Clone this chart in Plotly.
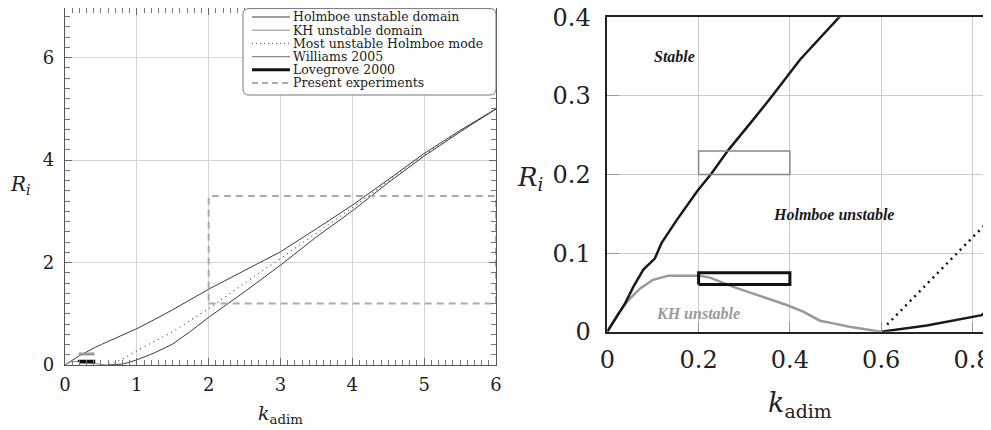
import plotly.graph_objects as go

# ---------------- data ----------------
holm_upper_k = [0, 0.02, 0.039, 0.057, 0.079, 0.104, 0.119, 0.152, 0.196, 0.229, 0.265, 0.313,
                0.364, 0.422, 0.506, 0.7, 1.0, 1.25, 1.5, 2.0, 2.5, 3.0, 3.5, 4.0, 4.5, 5.0, 5.5, 6.0]
holm_upper_ri = [0, 0.019, 0.036, 0.057, 0.079, 0.093, 0.113, 0.142, 0.178, 0.202, 0.231, 0.265,
                 0.302, 0.346, 0.4, 0.52, 0.71, 0.89, 1.08, 1.48, 1.84, 2.21, 2.66, 3.12, 3.62, 4.13, 4.58, 5.0]

holm_lower_k = [0.6, 0.7, 0.82, 0.85, 0.9, 1.0, 1.25, 1.5, 1.75, 2.0, 2.5, 3.0, 3.5, 4.0, 4.5, 5.0, 5.5, 6.0]
holm_lower_ri = [0, 0.008, 0.021, 0.036, 0.055, 0.1, 0.24, 0.41, 0.66, 0.93, 1.43, 1.95, 2.5, 3.01,
                 3.56, 4.08, 4.55, 5.0]

most_k = [0.613, 0.7, 0.8, 0.843, 1.0, 1.5, 2.0, 2.5, 3.0, 3.5, 4.0, 4.5, 5.0, 5.5, 6.0]
most_ri = [0.009, 0.061, 0.12, 0.145, 0.28, 0.65, 1.1, 1.6, 2.08, 2.58, 3.07, 3.59, 4.1, 4.56, 5.0]

kh_k = [0, 0.024, 0.046, 0.072, 0.1, 0.134, 0.203, 0.225, 0.276, 0.327, 0.393, 0.429, 0.466, 0.495, 0.53, 0.6]
kh_ri = [0, 0.023, 0.040, 0.055, 0.066, 0.0713, 0.0713, 0.0688, 0.057, 0.0467, 0.034, 0.0255,
         0.014, 0.0106, 0.0064, 0]

williams_k = [0.2, 0.4]
williams_ri = [0.2, 0.23]
lovegrove_k = [0.2, 0.4]
lovegrove_ri = [0.06, 0.075]
present_k = [2.0, 6.0]
present_ri = [1.2, 3.3]

legend_labels = ["Holmboe unstable domain", "KH unstable domain", "Most unstable Holmboe mode",
                 "Williams 2005", "Lovegrove 2000", "Present experiments"]

left_xticks = [0, 1, 2, 3, 4, 5, 6]
left_yticks = [0, 2, 4, 6]
right_xticks = [0, 0.2, 0.4, 0.6, 0.8]
right_xticktext = ["0", "0.2", "0.4", "0.6", "0.8"]
right_yticks = [0, 0.1, 0.2, 0.3, 0.4]
right_yticktext = ["0", "0.1", "0.2", "0.3", "0.4"]

region_labels = ["Stable", "Holmboe unstable", "KH unstable"]
region_k = [0.148, 0.496, 0.198]
region_ri = [0.35, 0.149, 0.0235]

# ---------------- figure ----------------
W, H = 991, 430
OFF = 8  # page body margin
SERIF = "DejaVu Serif"
TIMES = "Liberation Serif"


def rect(kr, rr):
    return [kr[0], kr[1], kr[1], kr[0], kr[0]], [rr[0], rr[0], rr[1], rr[1], rr[0]]


fig = go.Figure()


def line(x, y, color, width, dash="solid", xa="x", ya="y"):
    fig.add_trace(go.Scatter(x=x, y=y, mode="lines", xaxis=xa, yaxis=ya, showlegend=False,
                             line=dict(color=color, width=width, dash=dash), hoverinfo="skip"))


# left subplot
line(holm_upper_k, holm_upper_ri, "#3c3c3c", 1)
line(holm_lower_k, holm_lower_ri, "#3c3c3c", 1)
line(kh_k, kh_ri, "#8a8a8a", 1)
line(most_k, most_ri, "#555555", 1.2, "1px,4px")
rx, ry = rect(williams_k, williams_ri)
line(rx, ry, "#9a9a9a", 1.5)
rx, ry = rect(lovegrove_k, lovegrove_ri)
line(rx, ry, "#111111", 3)
rx, ry = rect(present_k, present_ri)
line(rx, ry, "#aaaaaa", 2, "7px,5px")

# right subplot
line(kh_k, kh_ri, "#999999", 2.5, xa="x2", ya="y2")
line(holm_upper_k, holm_upper_ri, "#1a1a1a", 2.5, xa="x2", ya="y2")
line(holm_lower_k, holm_lower_ri, "#1a1a1a", 2.5, xa="x2", ya="y2")
line(most_k, most_ri, "#111111", 2.5, "2px,4.5px", xa="x2", ya="y2")
rx, ry = rect(williams_k, williams_ri)
line(rx, ry, "#888888", 1.5, xa="x2", ya="y2")
rx, ry = rect(lovegrove_k, lovegrove_ri)
line(rx, ry, "#111111", 3, xa="x2", ya="y2")


def px(x):
    return (x - OFF) / W


def py(y):
    return 1 - (y - OFF) / H


common_font = dict(family=SERIF, color="#222222")
left_yscale = (365 - 57.7) / 6.0
right_xscale = 456.5

fig.update_layout(
    width=W, height=H, margin=dict(l=0, r=0, t=0, b=0, autoexpand=False),
    paper_bgcolor="white", plot_bgcolor="white", showlegend=False,
    xaxis=dict(domain=[px(65), px(496)], range=[0, 6], tickvals=left_xticks, automargin=False,
               ticks="inside", ticklen=7, tickcolor="#666", showline=True, linecolor="#555",
               linewidth=1.2, mirror="ticks", showgrid=True, gridcolor="#d4d4d4", gridwidth=1,
               zeroline=False, tickfont=dict(size=18, **common_font), ticklabelstandoff=3,
               minor=dict(dtick=0.1, ticks="inside", ticklen=5, tickcolor="#777", showgrid=False),
               anchor="y"),
    yaxis=dict(domain=[py(365), 1.0], range=[0, (365 - OFF) / left_yscale], tickvals=left_yticks,
               automargin=False,
               ticks="inside", ticklen=7, tickcolor="#666", showline=True, linecolor="#555",
               linewidth=1.2, mirror="ticks", showgrid=True, gridcolor="#d4d4d4", gridwidth=1,
               zeroline=False, tickfont=dict(size=18, **common_font), ticklabelstandoff=6,
               minor=dict(dtick=0.2, ticks="inside", ticklen=5, tickcolor="#777", showgrid=False),
               anchor="x"),
    xaxis2=dict(domain=[px(607.3), 1.0], range=[0, (W + OFF - 607.3) / right_xscale], tickvals=right_xticks,
                ticktext=right_xticktext, ticks="inside", ticklen=10, tickcolor="#999", automargin=False,
                showline=True, linecolor="#222", linewidth=1.5, mirror=True, ticklabeloverflow="allow",
                showgrid=True, gridcolor="#cccccc", gridwidth=1.3, zeroline=False,
                tickfont=dict(size=24, **common_font), ticklabelstandoff=6, anchor="y2"),
    yaxis2=dict(domain=[py(331.7), py(17.3)], range=[0, 0.4], tickvals=right_yticks, automargin=False,
                ticktext=right_yticktext, ticks="inside", ticklen=12, tickcolor="#999",
                showline=True, linecolor="#222", linewidth=1.5, mirror="ticks", ticklabeloverflow="allow",
                showgrid=True, gridcolor="#cccccc", gridwidth=1.3, zeroline=False,
                tickfont=dict(size=24, **common_font), ticklabelstandoff=10, anchor="x2"),
)

annotations = []
# axis titles
annotations.append(dict(text="<i>R</i><sub><i>i</i></sub>", x=px(20), y=py(185), xref="paper", yref="paper",
                        xanchor="center", yanchor="middle",
                        showarrow=False, font=dict(size=20, **common_font)))
annotations.append(dict(text="<i>k</i><sub>adim</sub>", x=px(280), y=py(414), xref="paper", yref="paper",
                        xanchor="center", yanchor="middle",
                        showarrow=False, font=dict(size=19, **common_font)))
annotations.append(dict(text="<i>R</i><sub><i>i</i></sub>", x=px(530), y=py(178), xref="paper", yref="paper",
                        xanchor="center", yanchor="middle",
                        showarrow=False, font=dict(size=26, **common_font)))
annotations.append(dict(text="<i>k</i><sub>adim</sub>", x=px(800), y=py(404), xref="paper", yref="paper",
                        xanchor="center", yanchor="middle",
                        showarrow=False, font=dict(size=27, **common_font)))

# region labels (right subplot)
region_colors = ["#1a1a1a", "#1a1a1a", "#9a9a9a"]
for lab, k, r, c in zip(region_labels, region_k, region_ri, region_colors):
    annotations.append(dict(text=f"<b><i>{lab}</i></b>", x=k, y=r, xref="x2", yref="y2",
                            showarrow=False, font=dict(family=TIMES, size=16, color=c)))

# manual legend (left subplot)
shapes = []
lx0, lx1, ly0, ly1, rad = 243, 496, 8.6, 95, 6
path = (f"M {px(lx0 + rad)},{py(ly0)} L {px(lx1 - rad)},{py(ly0)} "
        f"Q {px(lx1)},{py(ly0)} {px(lx1)},{py(ly0 + rad)} L {px(lx1)},{py(ly1 - rad)} "
        f"Q {px(lx1)},{py(ly1)} {px(lx1 - rad)},{py(ly1)} L {px(lx0 + rad)},{py(ly1)} "
        f"Q {px(lx0)},{py(ly1)} {px(lx0)},{py(ly1 - rad)} L {px(lx0)},{py(ly0 + rad)} "
        f"Q {px(lx0)},{py(ly0)} {px(lx0 + rad)},{py(ly0)} Z")
shapes.append(dict(type="path", path=path, xref="paper", yref="paper",
                   line=dict(color="#777", width=1), fillcolor="white", layer="above"))
legend_styles = [("#3c3c3c", 1, "solid"), ("#8a8a8a", 1, "solid"), ("#555555", 1, "1px,3px"),
                 ("#8a8a8a", 1.2, "solid"), ("#111111", 3, "solid"), ("#aaaaaa", 2, "6px,4px")]
for i, (lab, (c, w, d)) in enumerate(zip(legend_labels, legend_styles)):
    yy = 17 + 13.2 * i
    shapes.append(dict(type="line", xref="paper", yref="paper", x0=px(252), x1=px(290),
                       y0=py(yy), y1=py(yy), line=dict(color=c, width=w, dash=d), layer="above"))
    annotations.append(dict(text=lab, x=px(290.5), y=py(yy), xref="paper", yref="paper",
                            xanchor="left", yanchor="middle", showarrow=False,
                            font=dict(family=SERIF, size=12.5, color="#222")))

fig.update_layout(annotations=annotations, shapes=shapes)

fig.write_html("out.html")
